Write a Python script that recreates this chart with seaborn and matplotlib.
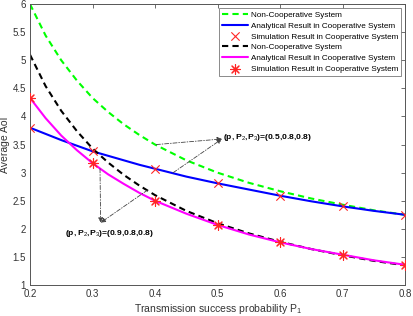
import matplotlib
matplotlib.use("Agg")
import matplotlib.pyplot as plt
import seaborn as sns
import pandas as pd

# ---- data ----
p1_line = [0.200, 0.225, 0.250, 0.275, 0.300, 0.325, 0.350, 0.375, 0.400,
           0.450, 0.500, 0.550, 0.600, 0.650, 0.700, 0.750, 0.800]
noncoop_a = [6.00, 5.44, 5.00, 4.64, 4.33, 4.08, 3.86, 3.67, 3.50,
             3.22, 3.00, 2.82, 2.67, 2.54, 2.43, 2.33, 2.25]
analytic_a = [3.80, 3.69, 3.58, 3.48, 3.38, 3.30, 3.22, 3.14, 3.07,
              2.93, 2.81, 2.70, 2.59, 2.49, 2.40, 2.32, 2.25]
noncoop_b = [5.10, 4.54, 4.10, 3.74, 3.43, 3.18, 2.96, 2.77, 2.60,
             2.32, 2.10, 1.92, 1.77, 1.64, 1.53, 1.43, 1.35]
analytic_b = [4.33, 3.97, 3.66, 3.40, 3.17, 2.97, 2.80, 2.64, 2.50,
              2.27, 2.07, 1.90, 1.76, 1.64, 1.54, 1.44, 1.36]

p1_sim = [0.2, 0.3, 0.4, 0.5, 0.6, 0.7, 0.8]
sim_a = [3.80, 3.38, 3.07, 2.81, 2.59, 2.40, 2.25]
sim_b = [4.33, 3.17, 2.50, 2.07, 1.76, 1.54, 1.36]

x_ticks = [0.2, 0.3, 0.4, 0.5, 0.6, 0.7, 0.8]
y_ticks = [1, 1.5, 2, 2.5, 3, 3.5, 4, 4.5, 5, 5.5, 6]

labels = ["Non-Cooperative System", "Analytical Result in Cooperative System",
          "Simulation Result in Cooperative System"]

sns.set_theme(style="white")
plt.rcParams['font.family'] = ['Liberation Sans', 'DejaVu Sans']
plt.rcParams['mathtext.fontset'] = 'custom'
plt.rcParams['mathtext.rm'] = 'Liberation Sans'
plt.rcParams['mathtext.it'] = 'Liberation Sans'
plt.rcParams['mathtext.bf'] = 'Liberation Sans:bold'

fig = plt.figure(figsize=(4.13, 3.16), dpi=100)
ax = fig.add_axes([0.0726, 0.098, 0.9084, 0.889])

df_line = pd.DataFrame({"p": p1_line, "na": noncoop_a, "aa": analytic_a,
                        "nb": noncoop_b, "ab": analytic_b})
df_sim = pd.DataFrame({"p": p1_sim, "sa": sim_a, "sb": sim_b})

red = (1, 0.15, 0.15)
sns.lineplot(data=df_line, x="p", y="na", ax=ax, color=(0, 1, 0), lw=1.5,
             linestyle=(0, (3, 2)), label=labels[0])
sns.lineplot(data=df_line, x="p", y="aa", ax=ax, color=(0, 0, 1), lw=1.5, label=labels[1])
sns.scatterplot(data=df_sim, x="p", y="sa", ax=ax, marker="x", color=red,
                s=36, linewidth=0.8, label=labels[2], zorder=5)
sns.lineplot(data=df_line, x="p", y="nb", ax=ax, color="black", lw=1.5,
             linestyle=(0, (3, 2)), label=labels[0])
sns.lineplot(data=df_line, x="p", y="ab", ax=ax, color=(1, 0, 1), lw=1.5, label=labels[1])
sns.scatterplot(data=df_sim, x="p", y="sb", ax=ax, marker=(8, 2, 0), color=red,
                edgecolor=red, s=50, linewidth=0.8, label=labels[2], zorder=5)

ax.set_xlim(0.2, 0.8)
ax.set_ylim(1, 6)
ax.set_xticks(x_ticks)
ax.set_xticklabels([f"{v:g}" for v in x_ticks])
ax.set_yticks(y_ticks)
ax.set_yticklabels([f"{v:g}" for v in y_ticks])

gray = "#333333"
for s in ax.spines.values():
    s.set_visible(True)
    s.set_color("#555555")
    s.set_linewidth(0.7)
ax.tick_params(direction="in", length=3, width=0.6, colors="#555555",
               labelcolor=gray, labelsize=7, top=True, right=True, pad=3)
ax.set_xlabel("Transmission success probability P$_1$", fontsize=7.5, color=gray, labelpad=2)
ax.set_ylabel("Average AoI", fontsize=7.5, color=gray, labelpad=2)

# annotations
akw = dict(arrowstyle="-|>", color="#444444", lw=0.6, linestyle=(0, (5, 2, 1, 2)),
           mutation_scale=7, shrinkA=0, shrinkB=0)
ax.annotate("", xy=(0.507, 3.60), xytext=(0.402, 3.50), arrowprops=akw)
ax.annotate("", xy=(0.507, 3.60), xytext=(0.429, 3.00), arrowprops=akw)
ax.text(0.509, 3.62, r"(p, P$_2$,P$_3$)=(0.5,0.8,0.8)", fontsize=6.1, fontweight="bold",
        va="center", ha="left", color="black")
ax.annotate("", xy=(0.313, 2.11), xytext=(0.312, 3.07), arrowprops=akw)
ax.annotate("", xy=(0.313, 2.11), xytext=(0.388, 2.69), arrowprops=akw)
ax.text(0.256, 1.91, r"(p, P$_2$,P$_3$)=(0.9,0.8,0.8)", fontsize=6.1, fontweight="bold",
        va="center", ha="left", color="black")

leg = ax.legend(loc="upper right", fontsize=5.9, frameon=True, fancybox=False,
                edgecolor="#555555", handlelength=3.2, handletextpad=0.3,
                labelspacing=0.38, borderpad=0.35, borderaxespad=0.5)
leg.get_frame().set_linewidth(0.6)
for t in leg.get_texts():
    t.set_color("black")

fig.savefig("out.png", dpi=100)
